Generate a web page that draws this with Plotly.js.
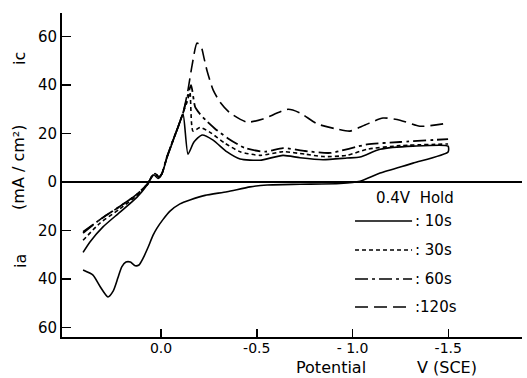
<!DOCTYPE html>
<html><head><meta charset="utf-8">
<script src="https://cdn.plot.ly/plotly-3.0.1.min.js"></script>
<style>html,body{margin:0;padding:0;background:#fff}#c{width:527px;height:378px}</style>
</head><body><div id="c"></div>
<script>
// Potential (V vs SCE) and current density (mA/cm2; cathodic ic positive, anodic ia negative)
const pot10f = [0.407,0.371,0.303,0.214,0.125,0.073,0.052,0.037,0.016,-0.005,-0.031,-0.063,-0.089,-0.115,-0.141,-0.172,-0.214,-0.272,-0.345,-0.413,-0.517,-0.637,-0.726,-0.846,-0.971,-1.039,-1.144,-1.316,-1.499];
const cur10f = [-29,-24.7,-18.5,-12.4,-6.2,-1.2,1.6,3,1.5,3.5,10,17,22.7,28,11.5,16.5,19.4,17.3,12.4,9.5,9,11,10,9.2,9.9,10.3,13.5,14.8,14.8];
const pot10r = [-1.499,-1.316,-1.144,-1.039,-0.935,-0.726,-0.554,-0.465,-0.345,-0.230,-0.151,-0.099,-0.047,-0.010,0.021,0.042,0.068,0.094,0.115,0.135,0.160,0.183,0.205,0.225,0.250,0.277,0.319,0.355,0.407];
const cur10r = [12.4,7.8,3.7,0.3,-0.6,-0.9,-1.2,-2,-4,-5.5,-7.4,-9,-12,-15.5,-19,-22,-27,-31.5,-34.2,-34.5,-33,-33,-35,-39.5,-45,-47.4,-43,-38.4,-36.3];
const pot30 = [0.407,0.319,0.214,0.125,0.068,0.047,0.031,0.010,-0.005,-0.031,-0.063,-0.089,-0.115,-0.136,-0.151,-0.167,-0.204,-0.256,-0.334,-0.413,-0.517,-0.637,-0.752,-0.846,-0.971,-1.076,-1.248,-1.499];
const cur30 = [-24,-17,-11,-5.5,-0.8,2.5,3.5,2,3.5,10.3,17.3,22.7,28.5,33,37,21,22.5,20.5,16,12.5,11,12.5,11.5,10.5,11,13.5,15,15.7];
const pot60 = [0.407,0.319,0.214,0.125,0.068,0.047,0.031,0.010,-0.005,-0.031,-0.063,-0.089,-0.115,-0.141,-0.157,-0.178,-0.204,-0.240,-0.282,-0.350,-0.439,-0.543,-0.637,-0.752,-0.883,-1.076,-1.248,-1.499];
const cur60 = [-21,-15.5,-10,-5,-0.5,2.5,3.5,2,3.5,10.3,17.3,22.7,28.5,36,40,31,28,25,22,18,14,12.5,14,12.8,12,15.5,16.5,17.7];
const pot120 = [0.407,0.319,0.214,0.125,0.068,0.047,0.031,0.010,-0.005,-0.031,-0.063,-0.089,-0.115,-0.141,-0.162,-0.188,-0.209,-0.225,-0.240,-0.272,-0.308,-0.360,-0.449,-0.533,-0.663,-0.726,-0.815,-0.909,-0.987,-1.065,-1.159,-1.248,-1.352,-1.499];
const cur120 = [-20.5,-15.5,-10,-5,-0.5,2.5,3.5,2,3.5,10.3,17.3,22.7,28.5,38,48,57.3,56,51,46,38,33,28.5,24.7,26,30,28.5,24,22,21,23.5,26.4,25.5,23,24.3];

const xTickVals = [0, -0.5, -1.0, -1.5];
const xTickText = ['0.0', '-0.5', '- 1.0', '-1.5'];
const yTickVals = [-60, -40, -20, 0, 20, 40, 60];
const yTickText = ['60', '40', '20', '0', '20', '40', '60'];

const seriesNames = [': 10s', ': 30s', ': 60s', ':120s'];
const dashes = ['solid', '4px,3px', '13px,4px,3px,4px', '13px,6px'];

const FONT = 'DejaVu Sans';
const mk = (x, y, dash, w) => ({
  x, y, type: 'scatter', mode: 'lines', showlegend: false, hoverinfo: 'skip',
  line: {color: '#000', width: w, dash: dash, shape: 'spline', smoothing: 0.6}
});

const traces = [
  mk(pot10f.concat(pot10r), cur10f.concat(cur10r), dashes[0], 1.6),
  mk(pot30, cur30, dashes[1], 1.6),
  mk(pot60, cur60, dashes[2], 1.8),
  mk(pot120, cur120, dashes[3], 1.6)
];

// manual legend (paper coordinates)
const legRows = [0.358, 0.2685, 0.179, 0.0926];
const shapes = legRows.map((yy, i) => ({
  type: 'line', xref: 'paper', yref: 'paper', x0: 0.637, x1: 0.761, y0: yy, y1: yy,
  line: {color: '#000', width: 1.6, dash: dashes[i]}
}));
const ann = legRows.map((yy, i) => ({
  xref: 'paper', yref: 'paper', x: 0.762, y: yy, xanchor: 'left', yanchor: 'middle',
  text: seriesNames[i], showarrow: false, font: {family: FONT, size: 15, color: '#000'}
}));
ann.push({xref:'paper', yref:'paper', x:0.767, y:0.429, text:'0.4V  Hold', showarrow:false,
  xanchor:'center', yanchor:'middle', font:{family:FONT, size:15, color:'#000'}});
ann.push({xref:'paper', yref:'paper', x:-0.0935, y:0.861, text:'ic', textangle:-90, showarrow:false,
  xanchor:'center', yanchor:'middle', font:{family:FONT, size:16, color:'#000'}});
ann.push({xref:'paper', yref:'paper', x:-0.0935, y:0.525, text:'(mA / cm²)', textangle:-90, showarrow:false,
  xanchor:'center', yanchor:'middle', font:{family:FONT, size:16, color:'#000'}});
ann.push({xref:'paper', yref:'paper', x:-0.089, y:0.235, text:'ia', textangle:-90, showarrow:false,
  xanchor:'center', yanchor:'middle', font:{family:FONT, size:16, color:'#000'}});
ann.push({xref:'paper', yref:'paper', x:0.585, y:-0.095, text:'Potential', showarrow:false,
  xanchor:'center', yanchor:'middle', font:{family:FONT, size:16, color:'#000'}});
ann.push({xref:'paper', yref:'paper', x:0.838, y:-0.095, text:'V (SCE)', showarrow:false,
  xanchor:'center', yanchor:'middle', font:{family:FONT, size:16, color:'#000'}});

const layout = {
  width: 527, height: 378,
  margin: {l: 62, r: 5, t: 13, b: 41},
  paper_bgcolor: '#fff', plot_bgcolor: '#fff',
  font: {family: FONT, size: 15, color: '#000'},
  showlegend: false,
  xaxis: {
    range: [0.517, -1.885], showgrid: false, zeroline: false,
    showline: true, linecolor: '#000', linewidth: 2, mirror: false,
    ticks: 'inside', ticklen: 8, tickwidth: 1.5, tickcolor: '#000',
    ticklabelstandoff: -3,
    tickvals: xTickVals, ticktext: xTickText, tickfont: {family: FONT, size: 14}
  },
  yaxis: {
    range: [-63.9, 69.7], showgrid: false,
    zeroline: true, zerolinecolor: '#000', zerolinewidth: 1.5,
    showline: true, linecolor: '#000', linewidth: 2, mirror: false,
    ticks: 'inside', ticklen: 9, tickwidth: 1.5, tickcolor: '#000',
    tickvals: yTickVals, ticktext: yTickText, tickfont: {family: FONT, size: 15}
  },
  shapes: shapes,
  annotations: ann
};

Plotly.newPlot('c', traces, layout, {staticPlot: true, displayModeBar: false});
</script>
</body></html>
